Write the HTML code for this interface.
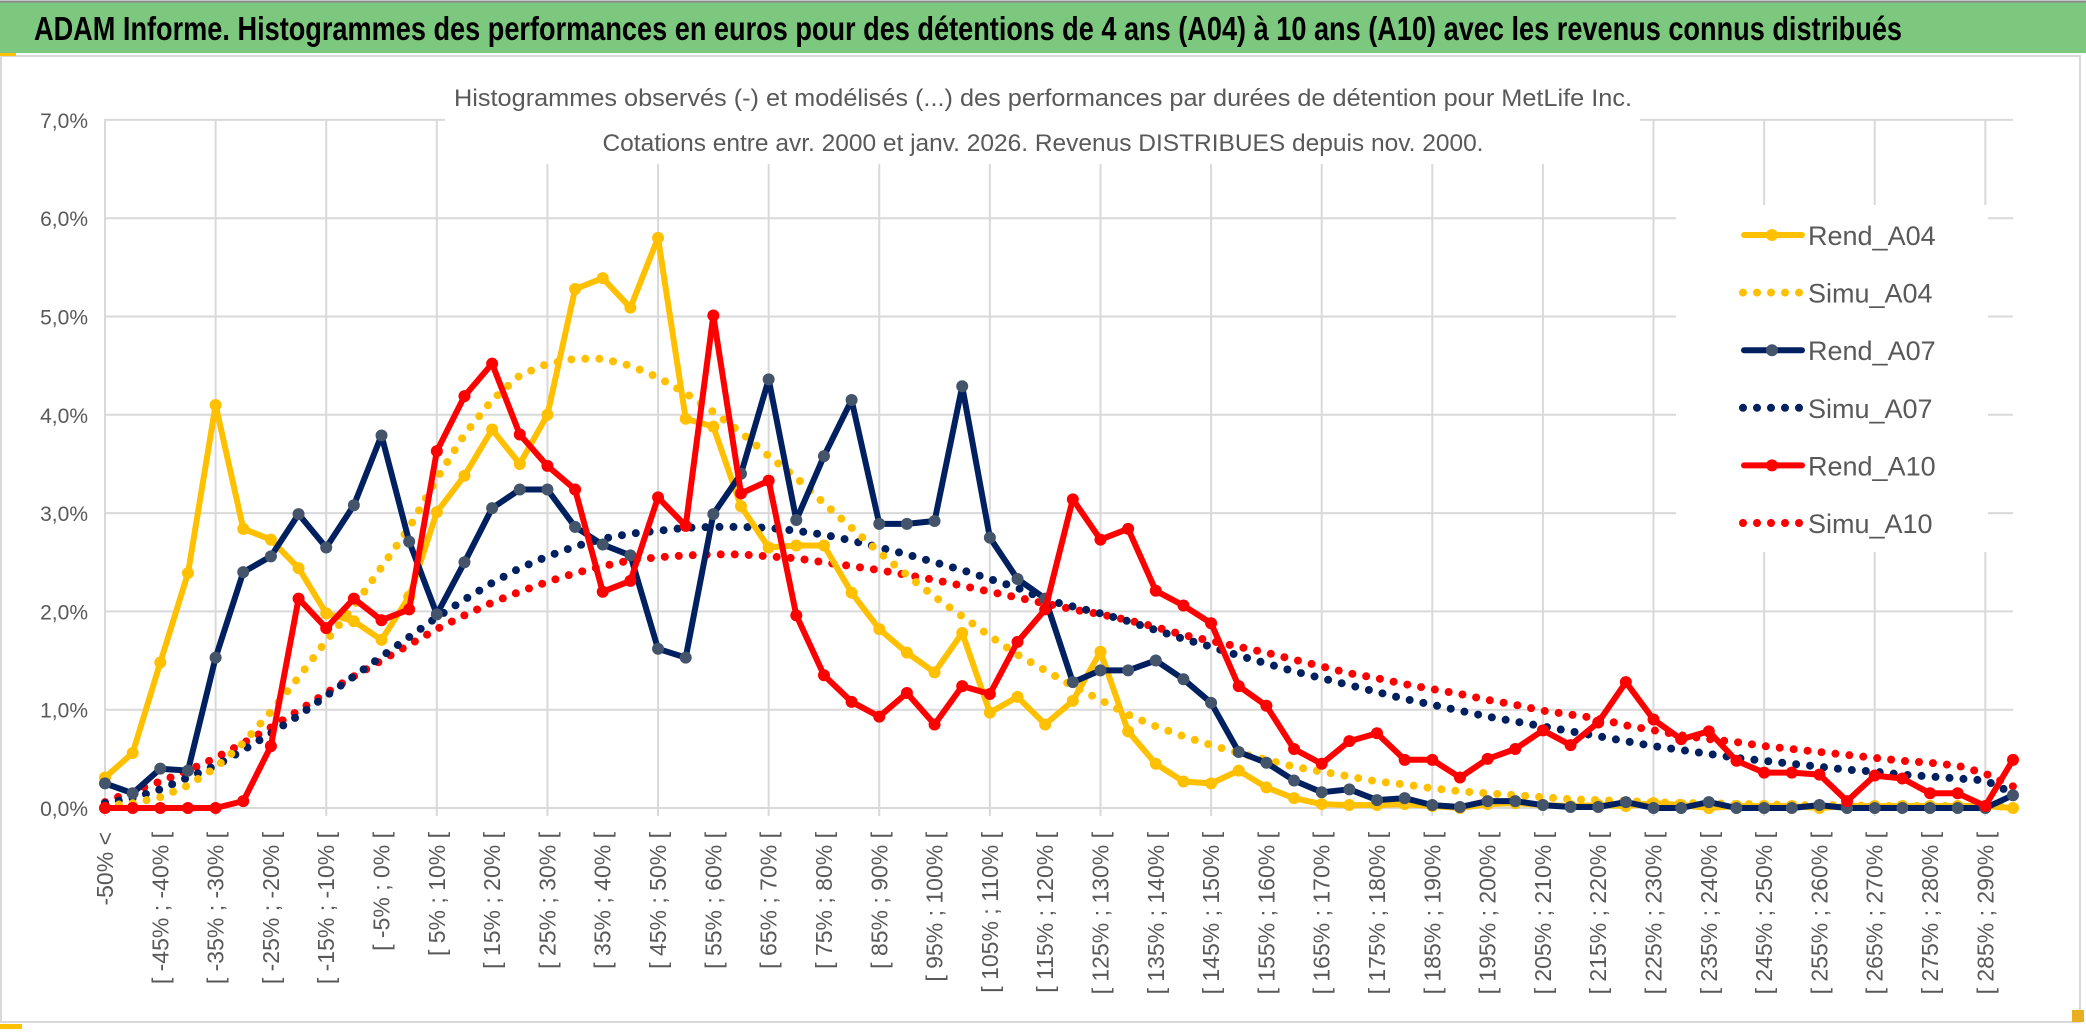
<!DOCTYPE html>
<html><head><meta charset="utf-8">
<style>
html,body{margin:0;padding:0;background:#fff;}
svg{display:block;font-family:"Liberation Sans",sans-serif;}
</style></head>
<body>
<svg id="chart" width="2086" height="1033" viewBox="0 0 2086 1033" xmlns="http://www.w3.org/2000/svg">
  <rect x="0" y="0" width="2086" height="1033" fill="#fff"/>
  <rect x="0" y="2" width="2086" height="51" fill="#7DC87F"/>
  <line x1="0" y1="1.5" x2="2086" y2="1.5" stroke="#888" stroke-width="2"/>
  <text x="34" y="40" font-size="33" font-weight="bold" fill="#000" textLength="1868" lengthAdjust="spacingAndGlyphs">ADAM Informe. Histogrammes des performances en euros pour des détentions de 4 ans (A04) à 10 ans (A10) avec les revenus connus distribués</text>
  <rect x="1" y="56" width="2079" height="966" fill="none" stroke="#d9d9d9" stroke-width="2"/>
  <rect x="0" y="53" width="16" height="3" fill="#FFC000"/>
  <rect x="0" y="1024" width="22" height="5" fill="#FFC000"/>
  <rect x="2072" y="1010" width="12" height="12" fill="#E8B020"/>
  <g id="grid"></g>
  <g id="yaxis"></g>
  <g id="xaxis"></g>
  <g id="series"></g>
  <rect x="445" y="70" width="1195" height="94" fill="#fff"/>
  <text x="1043" y="106" font-size="24" fill="#595959" text-anchor="middle" textLength="1178" lengthAdjust="spacingAndGlyphs">Histogrammes observés (-) et modélisés (...) des performances par durées de détention pour MetLife Inc.</text>
  <text x="1043" y="151" font-size="24" fill="#595959" text-anchor="middle" textLength="881" lengthAdjust="spacingAndGlyphs">Cotations entre avr. 2000 et janv. 2026. Revenus DISTRIBUES depuis nov. 2000.</text>
  <g id="legend"></g>
</svg>
<script>
const categoriesStart = -50;
const categoryCount = 70;
const yTicks = [0,1,2,3,4,5,6,7];
const yTickLabels = ["0,0%","1,0%","2,0%","3,0%","4,0%","5,0%","6,0%","7,0%"];
const seriesNames = ["Rend_A04","Simu_A04","Rend_A07","Simu_A07","Rend_A10","Simu_A10"];
const rendA04 = [0.31,0.56,1.48,2.39,4.1,2.84,2.73,2.44,1.98,1.9,1.71,2.15,3.01,3.38,3.85,3.5,4.0,5.28,5.39,5.09,5.8,3.96,3.88,3.07,2.65,2.67,2.67,2.19,1.82,1.58,1.38,1.78,0.97,1.13,0.85,1.09,1.59,0.78,0.45,0.27,0.25,0.38,0.21,0.1,0.04,0.03,0.03,0.04,0.02,0.0,0.04,0.05,0.03,0.02,0.03,0.02,0.05,0.03,0.0,0.02,0.02,0.02,0.0,0.02,0.02,0.02,0.02,0.02,0.02,0.0];
const simuA04 = [0.02,0.05,0.11,0.23,0.41,0.66,0.98,1.33,1.7,2.05,2.45,2.85,3.35,3.8,4.15,4.4,4.52,4.57,4.57,4.5,4.38,4.22,4.03,3.82,3.58,3.36,3.1,2.85,2.6,2.37,2.15,1.95,1.75,1.56,1.4,1.24,1.1,0.95,0.83,0.73,0.64,0.56,0.49,0.42,0.37,0.32,0.27,0.24,0.2,0.17,0.15,0.13,0.11,0.09,0.08,0.07,0.06,0.05,0.05,0.04,0.04,0.03,0.03,0.03,0.02,0.02,0.02,0.02,0.02,0.01];
const rendA07 = [0.25,0.15,0.4,0.38,1.53,2.4,2.56,2.99,2.65,3.08,3.79,2.71,1.97,2.5,3.05,3.24,3.24,2.86,2.68,2.57,1.62,1.53,2.99,3.4,4.36,2.93,3.58,4.15,2.89,2.89,2.92,4.29,2.75,2.33,2.13,1.28,1.4,1.4,1.5,1.31,1.07,0.57,0.46,0.28,0.16,0.19,0.08,0.1,0.03,0.01,0.07,0.07,0.03,0.01,0.01,0.06,0.0,0.0,0.06,0.0,0.0,0.0,0.03,0.0,0.0,0.0,0.0,0.0,0.0,0.13];
const simuA07 = [0.05,0.1,0.19,0.31,0.43,0.59,0.76,0.94,1.14,1.34,1.54,1.74,1.94,2.12,2.29,2.44,2.56,2.66,2.74,2.79,2.82,2.85,2.86,2.86,2.85,2.82,2.78,2.72,2.65,2.58,2.5,2.42,2.33,2.24,2.12,2.05,1.98,1.9,1.81,1.72,1.64,1.55,1.47,1.39,1.32,1.25,1.18,1.11,1.05,0.99,0.93,0.88,0.83,0.78,0.73,0.68,0.63,0.59,0.55,0.51,0.48,0.45,0.42,0.39,0.37,0.34,0.32,0.3,0.28,0.15];
const rendA10 = [0,0,0,0,0,0.07,0.63,2.13,1.83,2.13,1.91,2.02,3.63,4.19,4.52,3.8,3.48,3.24,2.2,2.31,3.16,2.87,5.01,3.2,3.33,1.96,1.35,1.08,0.93,1.17,0.85,1.24,1.16,1.69,2.02,3.14,2.73,2.84,2.21,2.06,1.88,1.24,1.04,0.6,0.45,0.68,0.76,0.49,0.49,0.31,0.5,0.6,0.79,0.64,0.87,1.28,0.9,0.7,0.78,0.48,0.36,0.36,0.34,0.07,0.33,0.3,0.15,0.15,0.02,0.49];
const simuA10 = [0.06,0.17,0.27,0.38,0.51,0.66,0.82,0.99,1.17,1.34,1.5,1.66,1.82,1.96,2.09,2.2,2.3,2.39,2.46,2.52,2.55,2.57,2.58,2.58,2.56,2.54,2.5,2.46,2.42,2.37,2.32,2.26,2.2,2.14,2.08,2.02,1.97,1.91,1.84,1.76,1.7,1.64,1.58,1.51,1.44,1.37,1.32,1.26,1.21,1.16,1.1,1.05,0.99,0.95,0.91,0.84,0.79,0.74,0.7,0.67,0.63,0.6,0.57,0.54,0.51,0.48,0.46,0.43,0.35,0.22];

const NS = "http://www.w3.org/2000/svg";
const X0 = 105, X1 = 2013, Y0 = 808, YPER = 98.3;
function xPos(i){ return X0 + (X1 - X0) * i / (categoryCount - 1); }
function yPos(v){ return Y0 - v * YPER; }
function mk(tag, attrs, parent){ const e = document.createElementNS(NS, tag); for (const k in attrs) e.setAttribute(k, attrs[k]); parent.appendChild(e); return e; }
function catLabel(i){ if (i === 0) return "-50% <"; const a = categoriesStart - 5 + 5*i; return "[ " + a + "% ; " + (a+5) + "% ["; }

const grid = document.getElementById("grid");
yTicks.forEach((t) => {
  const l = mk("line", {x1: 104, x2: X1, y1: yPos(t), y2: yPos(t), stroke: "#d9d9d9", "stroke-width": 2}, grid);
  
  
});
for (let i = 0; i < categoryCount; i += 4) {
  const l = mk("line", {x1: xPos(i), x2: xPos(i), y1: yPos(7), y2: Y0 + 8, stroke: "#d9d9d9", "stroke-width": 2}, grid);
  
  
}
const yaxis = document.getElementById("yaxis");
yTicks.forEach((t, k) => {
  const tx = mk("text", {x: 88, y: yPos(t) + 8, "font-size": 21, fill: "#595959", "text-anchor": "end"}, yaxis);
  tx.textContent = yTickLabels[k];
  
  
});
const xaxis = document.getElementById("xaxis");
for (let i = 0; i < categoryCount; i += 2) {
  const x = xPos(i) + 8, y = 832;
  const tx = mk("text", {x: x, y: y, "font-size": 23, fill: "#595959", "text-anchor": "end", transform: "rotate(-90 " + x + " " + y + ")"}, xaxis);
  tx.textContent = catLabel(i);
  
  
}

const ser = document.getElementById("series");
function pts(arr){ return arr.map((v, i) => xPos(i).toFixed(1) + "," + yPos(v).toFixed(1)).join(" "); }
function dotted(arr, color, name){
  const p = mk("polyline", {points: pts(arr), fill: "none", stroke: color, "stroke-width": 8, "stroke-linecap": "round", "stroke-dasharray": "0 14"}, ser);
  
  
}
function solid(arr, color, mcolor, name){
  const p = mk("polyline", {points: pts(arr), fill: "none", stroke: color, "stroke-width": 6, "stroke-linejoin": "round"}, ser);
  
  
  arr.forEach((v, i) => {
    const c = mk("circle", {cx: xPos(i), cy: yPos(v), r: 6, fill: mcolor}, ser);
    
    
  });
}
dotted(simuA10, "#FF0000", "simu-a10-line");
dotted(simuA07, "#002060", "simu-a07-line");
dotted(simuA04, "#FFC000", "simu-a04-line");
solid(rendA04, "#FFC000", "#FFC000", "rend-a04-line");
solid(rendA07, "#002060", "#44546A", "rend-a07-line");
solid(rendA10, "#FF0000", "#FF0000", "rend-a10-line");

const lg = document.getElementById("legend");
const bg = mk("rect", {x: 1676, y: 205, width: 312, height: 347, fill: "#fff"}, lg);


const lgColors = ["#FFC000","#FFC000","#002060","#002060","#FF0000","#FF0000"];
const lgMarker = ["#FFC000",null,"#44546A",null,"#FF0000",null];
seriesNames.forEach((n, k) => {
  const y = 235 + k * 57.6;
  const g = mk("g", {}, lg);
  
  
  if (lgMarker[k]) {
    mk("line", {x1: 1744, x2: 1802, y1: y, y2: y, stroke: lgColors[k], "stroke-width": 6, "stroke-linecap": "round"}, g);
    mk("circle", {cx: 1772, cy: y, r: 6, fill: lgMarker[k]}, g);
  } else {
    mk("line", {x1: 1743, x2: 1800, y1: y, y2: y, stroke: lgColors[k], "stroke-width": 8, "stroke-linecap": "round", "stroke-dasharray": "0 14"}, g);
  }
  const t = mk("text", {x: 1808, y: y + 10, "font-size": 27, fill: "#595959"}, g);
  t.textContent = n;
});
</script>
</body></html>
